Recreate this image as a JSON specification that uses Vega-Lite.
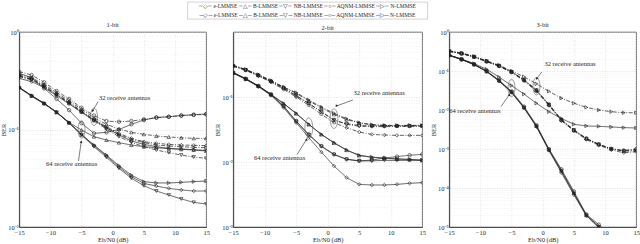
{
"$schema":"https://vega.github.io/schema/vega-lite/v6.json",
"padding":{"left":0,"top":1,"right":0,"bottom":0},
"config":{
 "font":"Liberation Serif",
 "view":{"stroke":"#262626","strokeWidth":0.7},
 "axis":{"labelFont":"Liberation Serif","titleFont":"Liberation Serif","labelFontSize":6.5,"titleFontSize":6.5,"titleFontWeight":"normal","labelColor":"#262626","titleColor":"#262626","domainColor":"#262626","domainWidth":0.7,"ticks":false,"gridDash":[1,1.5],"gridWidth":0.6},
 "title":{"font":"Liberation Serif","fontSize":6.5,"fontWeight":"normal","color":"#262626","offset":1}
},
"datasets":{
 "curves":[
  {"curve":"1a","panel":1,"method":"AQNM-LMMSE","ant":"32"},{"curve":"1b","panel":1,"method":"B-LMMSE","ant":"32"},{"curve":"1c","panel":1,"method":"e-LMMSE","ant":"32"},{"curve":"1d","panel":1,"method":"N-LMMSE","ant":"32"},{"curve":"1e","panel":1,"method":"NB-LMMSE","ant":"32"},
  {"curve":"1f","panel":1,"method":"AQNM-LMMSE","ant":"64"},{"curve":"1g","panel":1,"method":"e-LMMSE","ant":"64"},{"curve":"1h","panel":1,"method":"B-LMMSE","ant":"64"},{"curve":"1i","panel":1,"method":"N-LMMSE","ant":"64"},{"curve":"1j","panel":1,"method":"e-LMMSE","ant":"64"},{"curve":"1k","panel":1,"method":"NB-LMMSE","ant":"64"},
  {"curve":"2a","panel":2,"method":"N-LMMSE","ant":"32"},{"curve":"2b","panel":2,"method":"B-LMMSE","ant":"32"},{"curve":"2c","panel":2,"method":"AQNM-LMMSE","ant":"32"},{"curve":"2d","panel":2,"method":"NB-LMMSE","ant":"32"},{"curve":"2e","panel":2,"method":"e-LMMSE","ant":"32"},
  {"curve":"2f","panel":2,"method":"N-LMMSE","ant":"64"},{"curve":"2g","panel":2,"method":"B-LMMSE","ant":"64"},{"curve":"2h","panel":2,"method":"AQNM-LMMSE","ant":"64"},{"curve":"2i","panel":2,"method":"NB-LMMSE","ant":"64"},{"curve":"2j","panel":2,"method":"e-LMMSE","ant":"64"},
  {"curve":"3a","panel":3,"method":"N-LMMSE","ant":"32"},{"curve":"3b","panel":3,"method":"AQNM-LMMSE","ant":"32"},{"curve":"3c","panel":3,"method":"e-LMMSE","ant":"32"},{"curve":"3d","panel":3,"method":"B-LMMSE","ant":"32"},{"curve":"3e","panel":3,"method":"NB-LMMSE","ant":"32"},
  {"curve":"3f","panel":3,"method":"N-LMMSE","ant":"64"},{"curve":"3g","panel":3,"method":"AQNM-LMMSE","ant":"64"},{"curve":"3h","panel":3,"method":"e-LMMSE","ant":"64"},{"curve":"3i","panel":3,"method":"B-LMMSE","ant":"64"},{"curve":"3j","panel":3,"method":"NB-LMMSE","ant":"64"}
 ],
 "points":[
  {"curve":"1a","snr":-15,"ber":0.392},{"curve":"1a","snr":-13,"ber":0.362},{"curve":"1a","snr":-11,"ber":0.305},{"curve":"1a","snr":-9,"ber":0.248},{"curve":"1a","snr":-7,"ber":0.206},{"curve":"1a","snr":-5,"ber":0.167},{"curve":"1a","snr":-3,"ber":0.139},{"curve":"1a","snr":-1,"ber":0.122},{"curve":"1a","snr":1,"ber":0.120},{"curve":"1a","snr":3,"ber":0.122},{"curve":"1a","snr":5,"ber":0.127},{"curve":"1a","snr":7,"ber":0.132},{"curve":"1a","snr":9,"ber":0.135},{"curve":"1a","snr":11,"ber":0.139},{"curve":"1a","snr":13,"ber":0.141},{"curve":"1a","snr":15,"ber":0.143},
  {"curve":"1b","snr":-15,"ber":0.368},{"curve":"1b","snr":-13,"ber":0.340},{"curve":"1b","snr":-11,"ber":0.290},{"curve":"1b","snr":-9,"ber":0.239},{"curve":"1b","snr":-7,"ber":0.196},{"curve":"1b","snr":-5,"ber":0.162},{"curve":"1b","snr":-3,"ber":0.132},{"curve":"1b","snr":-1,"ber":0.113},{"curve":"1b","snr":1,"ber":0.101},{"curve":"1b","snr":3,"ber":0.0935},{"curve":"1b","snr":5,"ber":0.0893},{"curve":"1b","snr":7,"ber":0.0858},{"curve":"1b","snr":9,"ber":0.0838},{"curve":"1b","snr":11,"ber":0.0824},{"curve":"1b","snr":13,"ber":0.0811},{"curve":"1b","snr":15,"ber":0.0811},
  {"curve":"1c","snr":-15,"ber":0.357},{"curve":"1c","snr":-13,"ber":0.330},{"curve":"1c","snr":-11,"ber":0.282},{"curve":"1c","snr":-9,"ber":0.231},{"curve":"1c","snr":-7,"ber":0.190},{"curve":"1c","snr":-5,"ber":0.155},{"curve":"1c","snr":-3,"ber":0.127},{"curve":"1c","snr":-1,"ber":0.107},{"curve":"1c","snr":1,"ber":0.0913},{"curve":"1c","snr":3,"ber":0.0811},{"curve":"1c","snr":5,"ber":0.0750},{"curve":"1c","snr":7,"ber":0.0721},{"curve":"1c","snr":9,"ber":0.0704},{"curve":"1c","snr":11,"ber":0.0693},{"curve":"1c","snr":13,"ber":0.0688},{"curve":"1c","snr":15,"ber":0.0683},
  {"curve":"1d","snr":-15,"ber":0.354},{"curve":"1d","snr":-13,"ber":0.327},{"curve":"1d","snr":-11,"ber":0.277},{"curve":"1d","snr":-9,"ber":0.228},{"curve":"1d","snr":-7,"ber":0.187},{"curve":"1d","snr":-5,"ber":0.152},{"curve":"1d","snr":-3,"ber":0.125},{"curve":"1d","snr":-1,"ber":0.104},{"curve":"1d","snr":1,"ber":0.0892},{"curve":"1d","snr":3,"ber":0.0793},{"curve":"1d","snr":5,"ber":0.0733},{"curve":"1d","snr":7,"ber":0.0693},{"curve":"1d","snr":9,"ber":0.0677},{"curve":"1d","snr":11,"ber":0.0666},{"curve":"1d","snr":13,"ber":0.0656},{"curve":"1d","snr":15,"ber":0.0651},
  {"curve":"1e","snr":-15,"ber":0.348},{"curve":"1e","snr":-13,"ber":0.322},{"curve":"1e","snr":-11,"ber":0.275},{"curve":"1e","snr":-9,"ber":0.226},{"curve":"1e","snr":-7,"ber":0.186},{"curve":"1e","snr":-5,"ber":0.150},{"curve":"1e","snr":-3,"ber":0.122},{"curve":"1e","snr":-1,"ber":0.101},{"curve":"1e","snr":1,"ber":0.0844},{"curve":"1e","snr":3,"ber":0.0738},{"curve":"1e","snr":5,"ber":0.0666},{"curve":"1e","snr":7,"ber":0.0616},{"curve":"1e","snr":9,"ber":0.0579},{"curve":"1e","snr":11,"ber":0.0547},{"curve":"1e","snr":13,"ber":0.0522},{"curve":"1e","snr":15,"ber":0.0506},
  {"curve":"1f","snr":-15,"ber":0.377},{"curve":"1f","snr":-13,"ber":0.340},{"curve":"1f","snr":-11,"ber":0.264},{"curve":"1f","snr":-9,"ber":0.206},{"curve":"1f","snr":-7,"ber":0.158},{"curve":"1f","snr":-5,"ber":0.116},{"curve":"1f","snr":-3,"ber":0.0913},{"curve":"1f","snr":-1,"ber":0.0935},{"curve":"1f","snr":1,"ber":0.100},{"curve":"1f","snr":3,"ber":0.113},{"curve":"1f","snr":5,"ber":0.125},{"curve":"1f","snr":7,"ber":0.133},{"curve":"1f","snr":9,"ber":0.135},{"curve":"1f","snr":11,"ber":0.139},{"curve":"1f","snr":13,"ber":0.142},{"curve":"1f","snr":15,"ber":0.144},
  {"curve":"1g","snr":-15,"ber":0.335},{"curve":"1g","snr":-13,"ber":0.309},{"curve":"1g","snr":-11,"ber":0.269},{"curve":"1g","snr":-9,"ber":0.222},{"curve":"1g","snr":-7,"ber":0.183},{"curve":"1g","snr":-5,"ber":0.150},{"curve":"1g","snr":-3,"ber":0.125},{"curve":"1g","snr":-1,"ber":0.104},{"curve":"1g","snr":1,"ber":0.0878},{"curve":"1g","snr":3,"ber":0.0762},{"curve":"1g","snr":5,"ber":0.0704},{"curve":"1g","snr":7,"ber":0.0666},{"curve":"1g","snr":9,"ber":0.0641},{"curve":"1g","snr":11,"ber":0.0631},{"curve":"1g","snr":13,"ber":0.0621},{"curve":"1g","snr":15,"ber":0.0611},
  {"curve":"1h","snr":-15,"ber":0.271},{"curve":"1h","snr":-13,"ber":0.222},{"curve":"1h","snr":-11,"ber":0.186},{"curve":"1h","snr":-9,"ber":0.150},{"curve":"1h","snr":-7,"ber":0.118},{"curve":"1h","snr":-5,"ber":0.0988},{"curve":"1h","snr":-3,"ber":0.0844},{"curve":"1h","snr":-1,"ber":0.0780},{"curve":"1h","snr":1,"ber":0.0733},{"curve":"1h","snr":3,"ber":0.0693},{"curve":"1h","snr":5,"ber":0.0666},{"curve":"1h","snr":7,"ber":0.0651},{"curve":"1h","snr":9,"ber":0.0636},{"curve":"1h","snr":11,"ber":0.0626},{"curve":"1h","snr":13,"ber":0.0616},{"curve":"1h","snr":15,"ber":0.0602},
  {"curve":"1i","snr":-15,"ber":0.271},{"curve":"1i","snr":-13,"ber":0.222},{"curve":"1i","snr":-11,"ber":0.186},{"curve":"1i","snr":-9,"ber":0.150},{"curve":"1i","snr":-7,"ber":0.118},{"curve":"1i","snr":-5,"ber":0.0878},{"curve":"1i","snr":-3,"ber":0.0693},{"curve":"1i","snr":-1,"ber":0.0547},{"curve":"1i","snr":1,"ber":0.0426},{"curve":"1i","snr":3,"ber":0.0341},{"curve":"1i","snr":5,"ber":0.0292},{"curve":"1i","snr":7,"ber":0.0283},{"curve":"1i","snr":9,"ber":0.0283},{"curve":"1i","snr":11,"ber":0.0287},{"curve":"1i","snr":13,"ber":0.0292},{"curve":"1i","snr":15,"ber":0.0296},
  {"curve":"1j","snr":-15,"ber":0.269},{"curve":"1j","snr":-13,"ber":0.221},{"curve":"1j","snr":-11,"ber":0.184},{"curve":"1j","snr":-9,"ber":0.151},{"curve":"1j","snr":-7,"ber":0.117},{"curve":"1j","snr":-5,"ber":0.0899},{"curve":"1j","snr":-3,"ber":0.0683},{"curve":"1j","snr":-1,"ber":0.0535},{"curve":"1j","snr":1,"ber":0.0412},{"curve":"1j","snr":3,"ber":0.0328},{"curve":"1j","snr":5,"ber":0.0280},{"curve":"1j","snr":7,"ber":0.0263},{"curve":"1j","snr":9,"ber":0.0249},{"curve":"1j","snr":11,"ber":0.0240},{"curve":"1j","snr":13,"ber":0.0234},{"curve":"1j","snr":15,"ber":0.0234},
  {"curve":"1k","snr":-15,"ber":0.266},{"curve":"1k","snr":-13,"ber":0.219},{"curve":"1k","snr":-11,"ber":0.183},{"curve":"1k","snr":-9,"ber":0.150},{"curve":"1k","snr":-7,"ber":0.116},{"curve":"1k","snr":-5,"ber":0.0878},{"curve":"1k","snr":-3,"ber":0.0666},{"curve":"1k","snr":-1,"ber":0.0518},{"curve":"1k","snr":1,"ber":0.0400},{"curve":"1k","snr":3,"ber":0.0316},{"curve":"1k","snr":5,"ber":0.0265},{"curve":"1k","snr":7,"ber":0.0234},{"curve":"1k","snr":9,"ber":0.0213},{"curve":"1k","snr":11,"ber":0.0194},{"curve":"1k","snr":13,"ber":0.0179},{"curve":"1k","snr":15,"ber":0.0172},
  {"curve":"2a","snr":-15,"ber":0.307},{"curve":"2a","snr":-13,"ber":0.266},{"curve":"2a","snr":-11,"ber":0.221},{"curve":"2a","snr":-9,"ber":0.180},{"curve":"2a","snr":-7,"ber":0.142},{"curve":"2a","snr":-5,"ber":0.117},{"curve":"2a","snr":-3,"ber":0.0899},{"curve":"2a","snr":-1,"ber":0.0702},{"curve":"2a","snr":1,"ber":0.0561},{"curve":"2a","snr":3,"ber":0.0464},{"curve":"2a","snr":5,"ber":0.0403},{"curve":"2a","snr":7,"ber":0.0375},{"curve":"2a","snr":9,"ber":0.0366},{"curve":"2a","snr":11,"ber":0.0366},{"curve":"2a","snr":13,"ber":0.0366},{"curve":"2a","snr":15,"ber":0.0366},
  {"curve":"2b","snr":-15,"ber":0.305},{"curve":"2b","snr":-13,"ber":0.264},{"curve":"2b","snr":-11,"ber":0.219},{"curve":"2b","snr":-9,"ber":0.178},{"curve":"2b","snr":-7,"ber":0.141},{"curve":"2b","snr":-5,"ber":0.114},{"curve":"2b","snr":-3,"ber":0.087},{"curve":"2b","snr":-1,"ber":0.068},{"curve":"2b","snr":1,"ber":0.054},{"curve":"2b","snr":3,"ber":0.045},{"curve":"2b","snr":5,"ber":0.040},{"curve":"2b","snr":7,"ber":0.0372},{"curve":"2b","snr":9,"ber":0.0364},{"curve":"2b","snr":11,"ber":0.0362},{"curve":"2b","snr":13,"ber":0.0362},{"curve":"2b","snr":15,"ber":0.0362},
  {"curve":"2c","snr":-15,"ber":0.300},{"curve":"2c","snr":-13,"ber":0.260},{"curve":"2c","snr":-11,"ber":0.215},{"curve":"2c","snr":-9,"ber":0.174},{"curve":"2c","snr":-7,"ber":0.138},{"curve":"2c","snr":-5,"ber":0.104},{"curve":"2c","snr":-3,"ber":0.0799},{"curve":"2c","snr":-1,"ber":0.0588},{"curve":"2c","snr":1,"ber":0.0438},{"curve":"2c","snr":3,"ber":0.0389},{"curve":"2c","snr":5,"ber":0.0366},{"curve":"2c","snr":7,"ber":0.0358},{"curve":"2c","snr":9,"ber":0.0358},{"curve":"2c","snr":11,"ber":0.0358},{"curve":"2c","snr":13,"ber":0.0358},{"curve":"2c","snr":15,"ber":0.0358},
  {"curve":"2d","snr":-15,"ber":0.300},{"curve":"2d","snr":-13,"ber":0.259},{"curve":"2d","snr":-11,"ber":0.213},{"curve":"2d","snr":-9,"ber":0.172},{"curve":"2d","snr":-7,"ber":0.135},{"curve":"2d","snr":-5,"ber":0.106},{"curve":"2d","snr":-3,"ber":0.0790},{"curve":"2d","snr":-1,"ber":0.0595},{"curve":"2d","snr":1,"ber":0.0445},{"curve":"2d","snr":3,"ber":0.0380},{"curve":"2d","snr":5,"ber":0.0355},{"curve":"2d","snr":7,"ber":0.0350},{"curve":"2d","snr":9,"ber":0.0350},{"curve":"2d","snr":11,"ber":0.0352},{"curve":"2d","snr":13,"ber":0.0354},{"curve":"2d","snr":15,"ber":0.0356},
  {"curve":"2e","snr":-15,"ber":0.300},{"curve":"2e","snr":-13,"ber":0.257},{"curve":"2e","snr":-11,"ber":0.210},{"curve":"2e","snr":-9,"ber":0.170},{"curve":"2e","snr":-7,"ber":0.131},{"curve":"2e","snr":-5,"ber":0.100},{"curve":"2e","snr":-3,"ber":0.0744},{"curve":"2e","snr":-1,"ber":0.0541},{"curve":"2e","snr":1,"ber":0.0403},{"curve":"2e","snr":3,"ber":0.0337},{"curve":"2e","snr":5,"ber":0.0289},{"curve":"2e","snr":7,"ber":0.0266},{"curve":"2e","snr":9,"ber":0.0260},{"curve":"2e","snr":11,"ber":0.0257},{"curve":"2e","snr":13,"ber":0.0257},{"curve":"2e","snr":15,"ber":0.0257},
  {"curve":"2f","snr":-15,"ber":0.237},{"curve":"2f","snr":-13,"ber":0.191},{"curve":"2f","snr":-11,"ber":0.148},{"curve":"2f","snr":-9,"ber":0.110},{"curve":"2f","snr":-7,"ber":0.0799},{"curve":"2f","snr":-5,"ber":0.0561},{"curve":"2f","snr":-3,"ber":0.0380},{"curve":"2f","snr":-1,"ber":0.0266},{"curve":"2f","snr":1,"ber":0.0198},{"curve":"2f","snr":3,"ber":0.0153},{"curve":"2f","snr":5,"ber":0.0127},{"curve":"2f","snr":7,"ber":0.0119},{"curve":"2f","snr":9,"ber":0.0115},{"curve":"2f","snr":11,"ber":0.0112},{"curve":"2f","snr":13,"ber":0.0110},{"curve":"2f","snr":15,"ber":0.0106},
  {"curve":"2g","snr":-15,"ber":0.236},{"curve":"2g","snr":-13,"ber":0.190},{"curve":"2g","snr":-11,"ber":0.147},{"curve":"2g","snr":-9,"ber":0.109},{"curve":"2g","snr":-7,"ber":0.0790},{"curve":"2g","snr":-5,"ber":0.0555},{"curve":"2g","snr":-3,"ber":0.0378},{"curve":"2g","snr":-1,"ber":0.0265},{"curve":"2g","snr":1,"ber":0.0197},{"curve":"2g","snr":3,"ber":0.0152},{"curve":"2g","snr":5,"ber":0.0126},{"curve":"2g","snr":7,"ber":0.0118},{"curve":"2g","snr":9,"ber":0.0114},{"curve":"2g","snr":11,"ber":0.0111},{"curve":"2g","snr":13,"ber":0.0109},{"curve":"2g","snr":15,"ber":0.0106},
  {"curve":"2h","snr":-15,"ber":0.237},{"curve":"2h","snr":-13,"ber":0.191},{"curve":"2h","snr":-11,"ber":0.148},{"curve":"2h","snr":-9,"ber":0.110},{"curve":"2h","snr":-7,"ber":0.0727},{"curve":"2h","snr":-5,"ber":0.0427},{"curve":"2h","snr":-3,"ber":0.0266},{"curve":"2h","snr":-1,"ber":0.0176},{"curve":"2h","snr":1,"ber":0.0131},{"curve":"2h","snr":3,"ber":0.0110},{"curve":"2h","snr":5,"ber":0.0104},{"curve":"2h","snr":7,"ber":0.0107},{"curve":"2h","snr":9,"ber":0.0115},{"curve":"2h","snr":11,"ber":0.0121},{"curve":"2h","snr":13,"ber":0.0127},{"curve":"2h","snr":15,"ber":0.0131},
  {"curve":"2i","snr":-15,"ber":0.235},{"curve":"2i","snr":-13,"ber":0.189},{"curve":"2i","snr":-11,"ber":0.146},{"curve":"2i","snr":-9,"ber":0.108},{"curve":"2i","snr":-7,"ber":0.0720},{"curve":"2i","snr":-5,"ber":0.0420},{"curve":"2i","snr":-3,"ber":0.0262},{"curve":"2i","snr":-1,"ber":0.0173},{"curve":"2i","snr":1,"ber":0.0130},{"curve":"2i","snr":3,"ber":0.0110},{"curve":"2i","snr":5,"ber":0.0104},{"curve":"2i","snr":7,"ber":0.0104},{"curve":"2i","snr":9,"ber":0.0106},{"curve":"2i","snr":11,"ber":0.0106},{"curve":"2i","snr":13,"ber":0.0106},{"curve":"2i","snr":15,"ber":0.0107},
  {"curve":"2j","snr":-15,"ber":0.231},{"curve":"2j","snr":-13,"ber":0.187},{"curve":"2j","snr":-11,"ber":0.144},{"curve":"2j","snr":-9,"ber":0.106},{"curve":"2j","snr":-7,"ber":0.0686},{"curve":"2j","snr":-5,"ber":0.0403},{"curve":"2j","snr":-3,"ber":0.0237},{"curve":"2j","snr":-1,"ber":0.0142},{"curve":"2j","snr":1,"ber":0.00868},{"curve":"2j","snr":3,"ber":0.00574},{"curve":"2j","snr":5,"ber":0.00453},{"curve":"2j","snr":7,"ber":0.00443},{"curve":"2j","snr":9,"ber":0.00443},{"curve":"2j","snr":11,"ber":0.00453},{"curve":"2j","snr":13,"ber":0.00470},{"curve":"2j","snr":15,"ber":0.00481},
  {"curve":"3a","snr":-15,"ber":0.333},{"curve":"3a","snr":-13,"ber":0.289},{"curve":"3a","snr":-11,"ber":0.237},{"curve":"3a","snr":-9,"ber":0.182},{"curve":"3a","snr":-7,"ber":0.141},{"curve":"3a","snr":-5,"ber":0.100},{"curve":"3a","snr":-3,"ber":0.0712},{"curve":"3a","snr":-1,"ber":0.0467},{"curve":"3a","snr":1,"ber":0.0301},{"curve":"3a","snr":3,"ber":0.0201},{"curve":"3a","snr":5,"ber":0.0149},{"curve":"3a","snr":7,"ber":0.0117},{"curve":"3a","snr":9,"ber":0.0100},{"curve":"3a","snr":11,"ber":0.00905},{"curve":"3a","snr":13,"ber":0.00852},{"curve":"3a","snr":15,"ber":0.00852},
  {"curve":"3b","snr":-15,"ber":0.320},{"curve":"3b","snr":-13,"ber":0.280},{"curve":"3b","snr":-11,"ber":0.230},{"curve":"3b","snr":-9,"ber":0.176},{"curve":"3b","snr":-7,"ber":0.135},{"curve":"3b","snr":-5,"ber":0.0942},{"curve":"3b","snr":-3,"ber":0.0582},{"curve":"3b","snr":-1,"ber":0.0313},{"curve":"3b","snr":1,"ber":0.0135},{"curve":"3b","snr":3,"ber":0.00548},{"curve":"3b","snr":5,"ber":0.00301},{"curve":"3b","snr":7,"ber":0.00182},{"curve":"3b","snr":9,"ber":0.00130},{"curve":"3b","snr":11,"ber":0.00100},{"curve":"3b","snr":13,"ber":0.00092},{"curve":"3b","snr":15,"ber":0.00100},
  {"curve":"3c","snr":-15,"ber":0.318},{"curve":"3c","snr":-13,"ber":0.278},{"curve":"3c","snr":-11,"ber":0.228},{"curve":"3c","snr":-9,"ber":0.174},{"curve":"3c","snr":-7,"ber":0.132},{"curve":"3c","snr":-5,"ber":0.0920},{"curve":"3c","snr":-3,"ber":0.0560},{"curve":"3c","snr":-1,"ber":0.0300},{"curve":"3c","snr":1,"ber":0.0130},{"curve":"3c","snr":3,"ber":0.00530},{"curve":"3c","snr":5,"ber":0.00290},{"curve":"3c","snr":7,"ber":0.00175},{"curve":"3c","snr":9,"ber":0.00125},{"curve":"3c","snr":11,"ber":0.00095},{"curve":"3c","snr":13,"ber":0.00080},{"curve":"3c","snr":15,"ber":0.00085},
  {"curve":"3d","snr":-15,"ber":0.325},{"curve":"3d","snr":-13,"ber":0.283},{"curve":"3d","snr":-11,"ber":0.233},{"curve":"3d","snr":-9,"ber":0.178},{"curve":"3d","snr":-7,"ber":0.137},{"curve":"3d","snr":-5,"ber":0.096},{"curve":"3d","snr":-3,"ber":0.060},{"curve":"3d","snr":-1,"ber":0.033},{"curve":"3d","snr":1,"ber":0.0140},{"curve":"3d","snr":3,"ber":0.0057},{"curve":"3d","snr":5,"ber":0.0031},{"curve":"3d","snr":7,"ber":0.00188},{"curve":"3d","snr":9,"ber":0.00133},{"curve":"3d","snr":11,"ber":0.00102},{"curve":"3d","snr":13,"ber":0.00090},{"curve":"3d","snr":15,"ber":0.00095},
  {"curve":"3e","snr":-15,"ber":0.322},{"curve":"3e","snr":-13,"ber":0.281},{"curve":"3e","snr":-11,"ber":0.231},{"curve":"3e","snr":-9,"ber":0.177},{"curve":"3e","snr":-7,"ber":0.136},{"curve":"3e","snr":-5,"ber":0.095},{"curve":"3e","snr":-3,"ber":0.059},{"curve":"3e","snr":-1,"ber":0.032},{"curve":"3e","snr":1,"ber":0.0138},{"curve":"3e","snr":3,"ber":0.0056},{"curve":"3e","snr":5,"ber":0.00305},{"curve":"3e","snr":7,"ber":0.00185},{"curve":"3e","snr":9,"ber":0.00131},{"curve":"3e","snr":11,"ber":0.00101},{"curve":"3e","snr":13,"ber":0.00088},{"curve":"3e","snr":15,"ber":0.00090},
  {"curve":"3f","snr":-15,"ber":0.256},{"curve":"3f","snr":-13,"ber":0.201},{"curve":"3f","snr":-11,"ber":0.155},{"curve":"3f","snr":-9,"ber":0.111},{"curve":"3f","snr":-7,"ber":0.0698},{"curve":"3f","snr":-5,"ber":0.0423},{"curve":"3f","snr":-3,"ber":0.0256},{"curve":"3f","snr":-1,"ber":0.0149},{"curve":"3f","snr":1,"ber":0.00905},{"curve":"3f","snr":3,"ber":0.00606},{"curve":"3f","snr":5,"ber":0.00431},{"curve":"3f","snr":7,"ber":0.00390},{"curve":"3f","snr":9,"ber":0.00382},{"curve":"3f","snr":11,"ber":0.00367},{"curve":"3f","snr":13,"ber":0.00353},{"curve":"3f","snr":15,"ber":0.00346},
  {"curve":"3g","snr":-15,"ber":0.256},{"curve":"3g","snr":-13,"ber":0.201},{"curve":"3g","snr":-11,"ber":0.149},{"curve":"3g","snr":-9,"ber":0.100},{"curve":"3g","snr":-7,"ber":0.0582},{"curve":"3g","snr":-5,"ber":0.0301},{"curve":"3g","snr":-3,"ber":0.0122},{"curve":"3g","snr":-1,"ber":0.00406},{"curve":"3g","snr":1,"ber":0.00100},{"curve":"3g","snr":3,"ber":0.000301},{"curve":"3g","snr":5,"ber":0.0000818},{"curve":"3g","snr":7,"ber":0.000021},{"curve":"3g","snr":9,"ber":0.0000115},{"curve":"3g","snr":11,"ber":0.0000055},{"curve":"3g","snr":13,"ber":0.0000026},{"curve":"3g","snr":15,"ber":0.0000013},
  {"curve":"3h","snr":-15,"ber":0.250},{"curve":"3h","snr":-13,"ber":0.196},{"curve":"3h","snr":-11,"ber":0.145},{"curve":"3h","snr":-9,"ber":0.097},{"curve":"3h","snr":-7,"ber":0.055},{"curve":"3h","snr":-5,"ber":0.028},{"curve":"3h","snr":-3,"ber":0.0112},{"curve":"3h","snr":-1,"ber":0.0037},{"curve":"3h","snr":1,"ber":0.00092},{"curve":"3h","snr":3,"ber":0.000246},{"curve":"3h","snr":5,"ber":0.000067},{"curve":"3h","snr":7,"ber":0.0000194},{"curve":"3h","snr":9,"ber":0.0000095},{"curve":"3h","snr":11,"ber":0.0000045},{"curve":"3h","snr":13,"ber":0.0000021},{"curve":"3h","snr":15,"ber":0.000001},
  {"curve":"3i","snr":-15,"ber":0.253},{"curve":"3i","snr":-13,"ber":0.198},{"curve":"3i","snr":-11,"ber":0.147},{"curve":"3i","snr":-9,"ber":0.098},{"curve":"3i","snr":-7,"ber":0.057},{"curve":"3i","snr":-5,"ber":0.029},{"curve":"3i","snr":-3,"ber":0.0117},{"curve":"3i","snr":-1,"ber":0.0039},{"curve":"3i","snr":1,"ber":0.00096},{"curve":"3i","snr":3,"ber":0.00028},{"curve":"3i","snr":5,"ber":0.000075},{"curve":"3i","snr":7,"ber":0.00002},{"curve":"3i","snr":9,"ber":0.0000105},{"curve":"3i","snr":11,"ber":0.000005},{"curve":"3i","snr":13,"ber":0.0000023},{"curve":"3i","snr":15,"ber":0.0000011},
  {"curve":"3j","snr":-15,"ber":0.252},{"curve":"3j","snr":-13,"ber":0.197},{"curve":"3j","snr":-11,"ber":0.146},{"curve":"3j","snr":-9,"ber":0.0975},{"curve":"3j","snr":-7,"ber":0.056},{"curve":"3j","snr":-5,"ber":0.0285},{"curve":"3j","snr":-3,"ber":0.0115},{"curve":"3j","snr":-1,"ber":0.0038},{"curve":"3j","snr":1,"ber":0.00094},{"curve":"3j","snr":3,"ber":0.00027},{"curve":"3j","snr":5,"ber":0.000072},{"curve":"3j","snr":7,"ber":0.00002},{"curve":"3j","snr":9,"ber":0.00001},{"curve":"3j","snr":11,"ber":0.0000048},{"curve":"3j","snr":13,"ber":0.0000022},{"curve":"3j","snr":15,"ber":0.00000105}
 ],
 "notes":[
  {"panel":1,"kind":"label","snr":-2.2,"ber":0.209,"text":"32 receive antennas"},
  {"panel":1,"kind":"label","snr":-10.7,"ber":0.044,"text":"64 receive antennas"},
  {"panel":1,"kind":"arrow","snr":-2.34,"ber":0.193,"snr2":-3.24,"ber2":0.155},
  {"panel":1,"kind":"arrow","snr":-5.49,"ber":0.0475,"snr2":-5.05,"ber2":0.075},
  {"panel":1,"kind":"head","ant":32,"snr":-3.24,"ber":0.155},
  {"panel":1,"kind":"head","ant":64,"snr":-5.05,"ber":0.075},
  {"panel":1,"kind":"ellipse","snr":-3,"ber":0.135},
  {"panel":1,"kind":"ellipse","snr":-5,"ber":0.1},
  {"panel":2,"kind":"label","snr":4.1,"ber":0.117,"text":"32 receive antennas"},
  {"panel":2,"kind":"label","snr":-11.7,"ber":0.0117,"text":"64 receive antennas"},
  {"panel":2,"kind":"arrow","snr":4.0,"ber":0.0899,"snr2":1.37,"ber2":0.0727},
  {"panel":2,"kind":"arrow","snr":-4.85,"ber":0.0131,"snr2":-3.36,"ber2":0.0223},
  {"panel":2,"kind":"head","ant":32,"snr":1.37,"ber":0.0727},
  {"panel":2,"kind":"head","ant":64,"snr":-3.36,"ber":0.0223},
  {"panel":2,"kind":"ellipse","snr":1,"ber":0.0464},
  {"panel":2,"kind":"ellipse","snr":-3,"ber":0.0337},
  {"panel":3,"kind":"label","snr":0.27,"ber":0.149,"text":"32 receive antennas"},
  {"panel":3,"kind":"label","snr":-15,"ber":0.0096,"text":"64 receive antennas"},
  {"panel":3,"kind":"arrow","snr":-0.16,"ber":0.0942,"snr2":-0.97,"ber2":0.0631},
  {"panel":3,"kind":"arrow","snr":-6.7,"ber":0.0122,"snr2":-5.36,"ber2":0.0246},
  {"panel":3,"kind":"head","ant":32,"snr":-0.97,"ber":0.0631},
  {"panel":3,"kind":"head","ant":64,"snr":-5.36,"ber":0.0246},
  {"panel":3,"kind":"ellipse","snr":-1,"ber":0.0406},
  {"panel":3,"kind":"ellipse","snr":-5,"ber":0.0367}
 ],
 "legend":[
  {"style":"dash-dot","entries":"╌◇╌ e-LMMSE     ╌△╌ B-LMMSE     ╌▽╌ NB-LMMSE     ╌○╌ AQNM-LMMSE     ╌▷╌ N-LMMSE"},
  {"style":"solid","entries":"─◇─ e-LMMSE     ─△─ B-LMMSE     ─▽─ NB-LMMSE     ─○─ AQNM-LMMSE     ─▷─ N-LMMSE"}
 ]
},
"center":true,
"spacing":1,
"vconcat":[
 {
  "width":240,"height":17,
  "view":{"stroke":"#b5b5b5","strokeWidth":0.6},
  "data":{"name":"legend"},
  "mark":{"type":"text","font":"Liberation Serif","fontSize":5.5,"color":"#262626"},
  "encoding":{
   "y":{"field":"style","type":"nominal","sort":["dash-dot","solid"],"axis":{"orient":"right","title":null,"ticks":false,"domain":false,"grid":false,"labelOpacity":0,"labelFontSize":6,"labelPadding":23}},
   "text":{"field":"entries"}
  }
 },
 {
  "hconcat":[
   {
    "width":187,"height":195,
    "title":"1-bit",
    "encoding":{
     "x":{"field":"snr","type":"quantitative","scale":{"domain":[-15,15],"nice":false},"axis":{"title":"Eb/N0 (dB)","values":[-15,-10,-5,0,5,10,15],"labelFlush":false,"grid":true,"gridColor":"#d4d4d4","labelPadding":2,"titlePadding":1}},
     "y":{"field":"ber","type":"quantitative","scale":{"type":"log","domain":[0.01,1],"nice":false},"axis":{"title":"BER","values":[0.01,0.02,0.03,0.04,0.05,0.06,0.07,0.08,0.09,0.1,0.2,0.3,0.4,0.5,0.6,0.7,0.8,0.9,1],"labelExpr":"datum.value==1?'10⁰':datum.value==0.1?'10⁻¹':datum.value==0.01?'10⁻²':''","grid":true,"gridColor":{"condition":{"test":"datum.value==1||datum.value==0.1||datum.value==0.01","value":"#d0d0d0"},"value":"#ececec"},"labelPadding":1,"titlePadding":1}}
    },
    "layer":[
     {"data":{"name":"points"},"transform":[{"lookup":"curve","from":{"data":{"name":"curves"},"key":"curve","fields":["panel","method","ant"]}},{"filter":"datum.panel==1"}],
      "mark":{"type":"line","clip":true,"strokeWidth":0.7,"color":"#1f1f1f"},
      "encoding":{"detail":{"field":"curve"},"strokeDash":{"field":"ant","type":"nominal","scale":{"domain":["32","64"],"range":[[4,1.5,1,1.5],[1,0]]},"legend":null}}},
     {"data":{"name":"points"},"transform":[{"lookup":"curve","from":{"data":{"name":"curves"},"key":"curve","fields":["panel","method","ant"]}},{"filter":"datum.panel==1"}],
      "mark":{"type":"point","clip":true,"filled":false,"size":12,"strokeWidth":0.6,"color":"#1f1f1f","opacity":1},
      "encoding":{"shape":{"field":"method","type":"nominal","scale":{"domain":["e-LMMSE","B-LMMSE","NB-LMMSE","AQNM-LMMSE","N-LMMSE"],"range":["diamond","triangle-up","triangle-down","circle","triangle-right"]},"legend":null}}},
     {"data":{"name":"notes"},"transform":[{"filter":"datum.panel==1 && datum.kind=='ellipse'"}],
      "mark":{"type":"point","shape":"M0,-1A0.4,1,0,1,1,0,1A0.4,1,0,1,1,0,-1Z","size":300,"filled":false,"color":"#555555","strokeWidth":0.6,"opacity":1}},
     {"data":{"name":"notes"},"transform":[{"filter":"datum.panel==1 && datum.kind=='arrow'"}],
      "mark":{"type":"rule","color":"#262626","strokeWidth":0.6},
      "encoding":{"x2":{"field":"snr2"},"y2":{"field":"ber2"}}},
     {"data":{"name":"notes"},"transform":[{"filter":"datum.panel==1 && datum.kind=='head'"}],
      "mark":{"type":"point","shape":"triangle-up","filled":true,"size":8,"color":"#262626","opacity":1},
      "encoding":{"angle":{"field":"ant","type":"quantitative","scale":{"domain":[32,64],"range":[215,15]},"legend":null}}},
     {"data":{"name":"notes"},"transform":[{"filter":"datum.panel==1 && datum.kind=='label'"}],
      "mark":{"type":"text","align":"left","baseline":"middle","fontSize":6.5,"color":"#262626"},
      "encoding":{"text":{"field":"text"}}}
    ]
   },
   {
    "width":189,"height":195,
    "title":"2-bit",
    "encoding":{
     "x":{"field":"snr","type":"quantitative","scale":{"domain":[-15,15],"nice":false},"axis":{"title":"Eb/N0 (dB)","values":[-15,-10,-5,0,5,10,15],"labelFlush":false,"grid":true,"gridColor":"#d4d4d4","labelPadding":2,"titlePadding":1}},
     "y":{"field":"ber","type":"quantitative","scale":{"type":"log","domain":[0.001,1],"nice":false},"axis":{"title":"BER","values":[0.001,0.002,0.003,0.004,0.005,0.006,0.007,0.008,0.009,0.01,0.02,0.03,0.04,0.05,0.06,0.07,0.08,0.09,0.1,0.2,0.3,0.4,0.5,0.6,0.7,0.8,0.9,1],"labelExpr":"datum.value==0.1?'10⁻¹':datum.value==0.01?'10⁻²':datum.value==0.001?'10⁻³':''","grid":true,"gridColor":{"condition":{"test":"datum.value==1||datum.value==0.1||datum.value==0.01||datum.value==0.001","value":"#d0d0d0"},"value":"#ececec"},"labelPadding":1,"titlePadding":1}}
    },
    "layer":[
     {"data":{"name":"points"},"transform":[{"lookup":"curve","from":{"data":{"name":"curves"},"key":"curve","fields":["panel","method","ant"]}},{"filter":"datum.panel==2"}],
      "mark":{"type":"line","clip":true,"strokeWidth":0.7,"color":"#1f1f1f"},
      "encoding":{"detail":{"field":"curve"},"strokeDash":{"field":"ant","type":"nominal","scale":{"domain":["32","64"],"range":[[4,1.5,1,1.5],[1,0]]},"legend":null}}},
     {"data":{"name":"points"},"transform":[{"lookup":"curve","from":{"data":{"name":"curves"},"key":"curve","fields":["panel","method","ant"]}},{"filter":"datum.panel==2"}],
      "mark":{"type":"point","clip":true,"filled":false,"size":12,"strokeWidth":0.6,"color":"#1f1f1f","opacity":1},
      "encoding":{"shape":{"field":"method","type":"nominal","scale":{"domain":["e-LMMSE","B-LMMSE","NB-LMMSE","AQNM-LMMSE","N-LMMSE"],"range":["diamond","triangle-up","triangle-down","circle","triangle-right"]},"legend":null}}},
     {"data":{"name":"notes"},"transform":[{"filter":"datum.panel==2 && datum.kind=='ellipse'"}],
      "mark":{"type":"point","shape":"M0,-1A0.4,1,0,1,1,0,1A0.4,1,0,1,1,0,-1Z","size":380,"filled":false,"color":"#555555","strokeWidth":0.6,"opacity":1}},
     {"data":{"name":"notes"},"transform":[{"filter":"datum.panel==2 && datum.kind=='arrow'"}],
      "mark":{"type":"rule","color":"#262626","strokeWidth":0.6},
      "encoding":{"x2":{"field":"snr2"},"y2":{"field":"ber2"}}},
     {"data":{"name":"notes"},"transform":[{"filter":"datum.panel==2 && datum.kind=='head'"}],
      "mark":{"type":"point","shape":"triangle-up","filled":true,"size":8,"color":"#262626","opacity":1},
      "encoding":{"angle":{"field":"ant","type":"quantitative","scale":{"domain":[32,64],"range":[250,32]},"legend":null}}},
     {"data":{"name":"notes"},"transform":[{"filter":"datum.panel==2 && datum.kind=='label'"}],
      "mark":{"type":"text","align":"left","baseline":"middle","fontSize":6.5,"color":"#262626"},
      "encoding":{"text":{"field":"text"}}}
    ]
   },
   {
    "width":187,"height":195,
    "title":"3-bit",
    "encoding":{
     "x":{"field":"snr","type":"quantitative","scale":{"domain":[-15,15],"nice":false},"axis":{"title":"Eb/N0 (dB)","values":[-15,-10,-5,0,5,10,15],"labelFlush":false,"grid":true,"gridColor":"#d4d4d4","labelPadding":2,"titlePadding":1}},
     "y":{"field":"ber","type":"quantitative","scale":{"type":"log","domain":[0.00001,1],"nice":false},"axis":{"title":"BER","values":[0.00001,0.00002,0.00003,0.00004,0.00005,0.00006,0.00007,0.00008,0.00009,0.0001,0.0002,0.0003,0.0004,0.0005,0.0006,0.0007,0.0008,0.0009,0.001,0.002,0.003,0.004,0.005,0.006,0.007,0.008,0.009,0.01,0.02,0.03,0.04,0.05,0.06,0.07,0.08,0.09,0.1,0.2,0.3,0.4,0.5,0.6,0.7,0.8,0.9,1],"labelExpr":"datum.value==1?'10⁰':datum.value==0.1?'10⁻¹':datum.value==0.01?'10⁻²':datum.value==0.001?'10⁻³':datum.value==0.0001?'10⁻⁴':datum.value==0.00001?'10⁻⁵':''","grid":true,"gridColor":{"condition":{"test":"datum.value==1||datum.value==0.1||datum.value==0.01||datum.value==0.001||datum.value==0.0001||datum.value==0.00001","value":"#d0d0d0"},"value":"#ececec"},"labelPadding":1,"titlePadding":1}}
    },
    "layer":[
     {"data":{"name":"points"},"transform":[{"lookup":"curve","from":{"data":{"name":"curves"},"key":"curve","fields":["panel","method","ant"]}},{"filter":"datum.panel==3"}],
      "mark":{"type":"line","clip":true,"strokeWidth":0.7,"color":"#1f1f1f"},
      "encoding":{"detail":{"field":"curve"},"strokeDash":{"field":"ant","type":"nominal","scale":{"domain":["32","64"],"range":[[4,1.5,1,1.5],[1,0]]},"legend":null}}},
     {"data":{"name":"points"},"transform":[{"lookup":"curve","from":{"data":{"name":"curves"},"key":"curve","fields":["panel","method","ant"]}},{"filter":"datum.panel==3"}],
      "mark":{"type":"point","clip":true,"filled":false,"size":12,"strokeWidth":0.6,"color":"#1f1f1f","opacity":1},
      "encoding":{"shape":{"field":"method","type":"nominal","scale":{"domain":["e-LMMSE","B-LMMSE","NB-LMMSE","AQNM-LMMSE","N-LMMSE"],"range":["diamond","triangle-up","triangle-down","circle","triangle-right"]},"legend":null}}},
     {"data":{"name":"notes"},"transform":[{"filter":"datum.panel==3 && datum.kind=='ellipse'"}],
      "mark":{"type":"point","shape":"M0,-1A0.4,1,0,1,1,0,1A0.4,1,0,1,1,0,-1Z","size":300,"filled":false,"color":"#555555","strokeWidth":0.6,"opacity":1}},
     {"data":{"name":"notes"},"transform":[{"filter":"datum.panel==3 && datum.kind=='arrow'"}],
      "mark":{"type":"rule","color":"#262626","strokeWidth":0.6},
      "encoding":{"x2":{"field":"snr2"},"y2":{"field":"ber2"}}},
     {"data":{"name":"notes"},"transform":[{"filter":"datum.panel==3 && datum.kind=='head'"}],
      "mark":{"type":"point","shape":"triangle-up","filled":true,"size":8,"color":"#262626","opacity":1},
      "encoding":{"angle":{"field":"ant","type":"quantitative","scale":{"domain":[32,64],"range":[217,35]},"legend":null}}},
     {"data":{"name":"notes"},"transform":[{"filter":"datum.panel==3 && datum.kind=='label'"}],
      "mark":{"type":"text","align":"left","baseline":"middle","fontSize":6.5,"color":"#262626"},
      "encoding":{"text":{"field":"text"}}}
    ]
   }
  ],
  "spacing":27,
  "bounds":"flush"
 }
]
}
